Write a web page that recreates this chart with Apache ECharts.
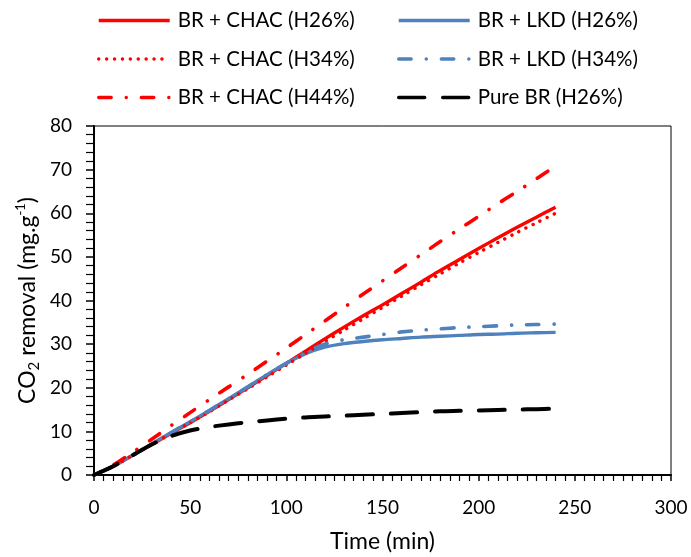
<!DOCTYPE html>
<html>
<head>
<meta charset="utf-8">
<script src="https://cdn.jsdelivr.net/npm/echarts@6/dist/echarts.min.js"></script>
<style>
html,body{margin:0;padding:0;background:#fff;}
#chart{width:691px;height:557px;}
</style>
</head>
<body>
<div id="chart"></div>
<script>
const time = [0,10,20,30,40,50,60,70,80,90,100,110,120,130,140,150,160,170,180,190,200,210,220,230,240];
const chacH26 = [0,2.0,4.5,7.0,9.5,12.0,14.6,17.3,20.0,22.8,25.6,28.4,31.2,33.9,36.5,39.0,41.6,44.2,46.9,49.4,51.9,54.4,56.8,59.1,61.4];
const chacH34 = [0,2.0,4.5,7.0,9.5,12.0,14.5,17.2,19.8,22.5,25.2,27.9,30.6,33.2,35.8,38.4,41.0,43.6,46.1,48.6,51.0,53.3,55.6,57.8,60.0];
const chacH44 = [0,2.3,5.2,8.2,11.3,14.3,17.3,20.2,23.1,26.1,29.1,32.2,35.3,38.4,41.5,44.5,47.5,50.5,53.5,56.4,59.3,62.2,65.0,67.9,70.8];
const lkdH26 = [0,2.0,4.5,7.1,9.7,12.2,14.8,17.5,20.2,23.0,25.6,27.8,29.3,30.1,30.6,31.0,31.3,31.6,31.8,32.0,32.2,32.3,32.5,32.6,32.7];
const lkdH34 = [0,2.0,4.5,7.1,9.7,12.2,14.8,17.5,20.2,23.0,25.6,28.1,30.0,31.0,31.6,32.2,32.8,33.2,33.5,33.8,34.0,34.2,34.4,34.5,34.6];
const pureBR = [0,2.0,4.5,7.0,8.9,10.2,11.0,11.6,12.1,12.5,12.9,13.2,13.4,13.6,13.8,14.0,14.2,14.4,14.6,14.7,14.8,14.9,15.0,15.1,15.2];
const names = ['BR + CHAC (H26%)','BR + LKD (H26%)','BR + CHAC (H34%)','BR + LKD (H34%)','BR + CHAC (H44%)','Pure BR (H26%)'];
const xTicks = [0,50,100,150,200,250,300];
const yTicks = [0,10,20,30,40,50,60,70,80];

const FONT = 'Lato';
const RED = '#FF0000', BLUE = '#4F81BD', BLACK = '#000000';
function pairs(arr){ return time.map((t,i)=>[t, arr[i]]); }
const dashDot = [12.5, 15, 0.1, 15];
function mk(name, data, color, width, type, cap, offset){
  return {
    name, type:'line', data: pairs(data), smooth: 0.3, showSymbol:false, symbol:'none',
    lineStyle:{color, width, type, cap: cap||'round', join:'round', dashOffset: offset||0},
    itemStyle:{color}, animation:false
  };
}
const series = [
  mk(names[0], chacH26, RED, 3.4, 'solid', 'butt'),
  mk(names[1], lkdH26, BLUE, 3.4, 'solid', 'butt'),
  mk(names[2], chacH34, RED, 3.4, [0.1, 7.8], 'round'),
  mk(names[3], lkdH34, BLUE, 3.6, dashDot, 'round'),
  mk(names[4], chacH44, RED, 3.6, dashDot, 'round', 20),
  mk(names[5], pureBR, BLACK, 4, [26, 18], 'round')
];
const legendText = {fontFamily: FONT, fontSize: 20.5, color:'#000', padding:[0,0,0,3]};
const legendCommon = {orient:'vertical', top:10, padding:0, itemWidth:71, itemHeight:20, itemGap:17.5,
  textStyle:legendText, selectedMode:false, itemStyle:{opacity:0}, lineStyle:{width:3.4, dashOffset:0}};
const chart = echarts.init(document.getElementById('chart'), null, {renderer:'canvas'});
chart.setOption({
  backgroundColor:'#fff',
  animation:false,
  legend:[
    Object.assign({data:[names[0],names[2],names[4]], left:97}, legendCommon),
    Object.assign({data:[names[1],names[3],names[5]], left:397}, legendCommon)
  ],
  grid:{left:94, top:126, right:20, bottom:82, outerBoundsMode:'none', containLabel:false,
    show:true, borderColor:'#000', borderWidth:1, backgroundColor:'transparent'},
  xAxis:{
    type:'value', min:xTicks[0], max:xTicks[xTicks.length-1], interval:50,
    name:'Time (min)', nameLocation:'middle', nameGap:55,
    nameTextStyle:{fontFamily:FONT, fontSize:23, color:'#000'},
    axisLine:{show:true, onZero:false, lineStyle:{color:'#000', width:2}},
    axisTick:{show:true, inside:false, length:6, lineStyle:{color:'#000', width:1.5}},
    minorTick:{show:true, splitNumber:10, length:6, lineStyle:{color:'#000', width:1.2}},
    axisLabel:{fontFamily:FONT, fontSize:19, color:'#000', margin:23},
    splitLine:{show:false}
  },
  yAxis:{
    type:'value', min:yTicks[0], max:yTicks[yTicks.length-1], interval:10,
    name:'{a|CO}{b|2}{a| removal (mg.g}{c|-1}{a|)}', nameLocation:'middle', nameGap:52, nameRotate:90,
    nameMoveOverlap:false,
    nameTextStyle:{fontFamily:FONT, fontSize:23, color:'#000',
      rich:{
        a:{fontFamily:FONT, fontSize:23, color:'#000', lineHeight:28},
        b:{fontFamily:FONT, fontSize:15, color:'#000', lineHeight:15, verticalAlign:'bottom'},
        c:{fontFamily:FONT, fontSize:13, color:'#000', lineHeight:13, verticalAlign:'top'}
      }},
    axisLine:{show:true, onZero:false, lineStyle:{color:'#000', width:2}},
    axisTick:{show:true, inside:false, length:8, lineStyle:{color:'#000', width:1.5}},
    minorTick:{show:true, splitNumber:5, length:8, lineStyle:{color:'#000', width:1.2}},
    axisLabel:{fontFamily:FONT, fontSize:19, color:'#000', margin:22},
    splitLine:{show:false}
  },
  series
});
</script>
</body>
</html>
